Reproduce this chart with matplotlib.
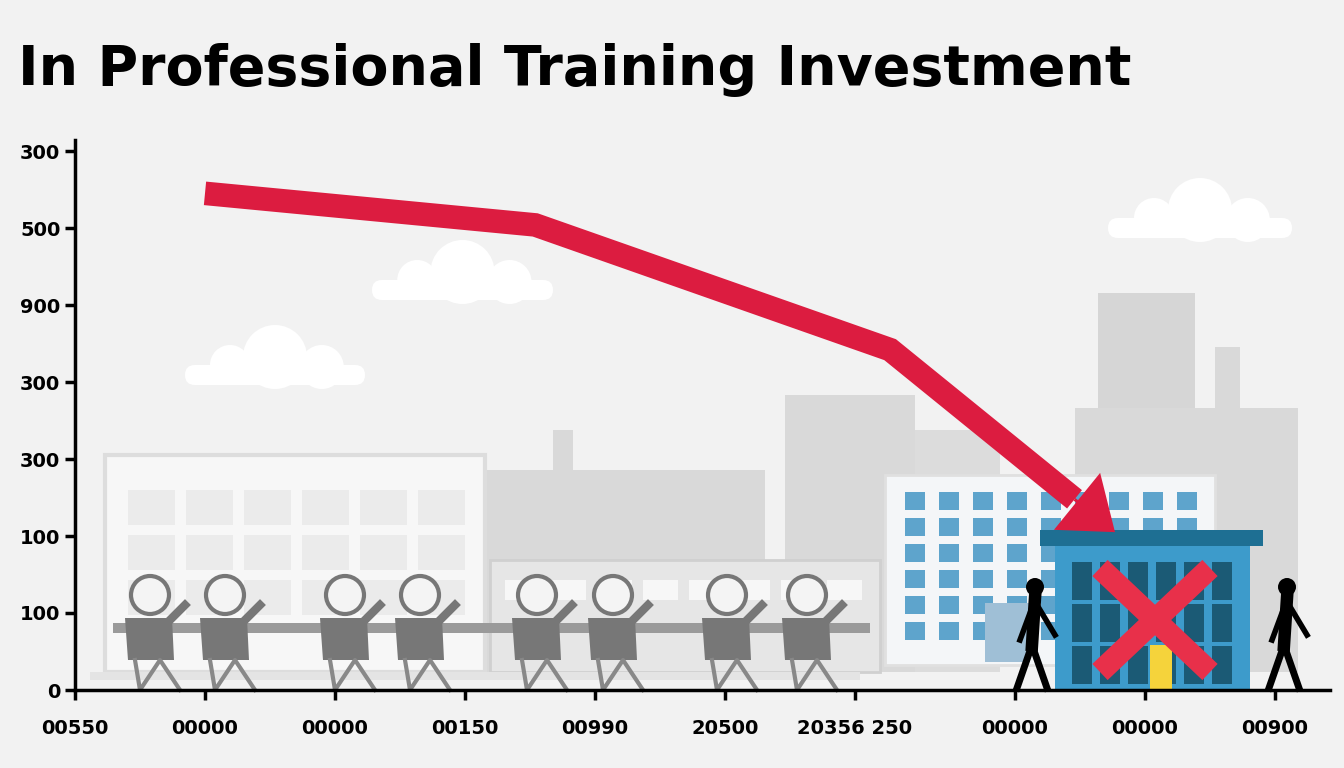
import matplotlib
matplotlib.use("Agg")
import matplotlib.pyplot as plt
from matplotlib.patches import Rectangle, Circle, Polygon, FancyBboxPatch

# --- data ---
y_ticks = [0, 1, 2, 3, 4, 5, 6, 7]
y_labels = ['0', '100', '100', '300', '300', '900', '500', '300']
x_ticks = [0, 1, 2, 3, 4, 5, 6, 7.23, 8.23, 9.23]
x_labels = ['00550', '00000', '00000', '00150', '00990', '20500',
            '20356 250', '00000', '00000', '00900']
trend_x = [1.0, 3.54, 6.27, 8.0]
trend_y = [6.45, 6.04, 4.42, 2.05]

BG = '#f2f2f2'
fig = plt.figure(figsize=(13.44, 7.68), dpi=100, facecolor=BG)

# --- background illustration (pixel coordinates) ---
bg = fig.add_axes([0, 0, 1, 1])
bg.set_xlim(0, 1344)
bg.set_ylim(768, 0)
bg.axis('off')
bg.set_facecolor(BG)

def rect(x0, y0, x1, y1, fc, ec='none', lw=0, z=1):
    bg.add_patch(Rectangle((x0, y0), x1 - x0, y1 - y0, fc=fc, ec=ec, lw=lw, zorder=z))

def cloud(x0, x1, ybase):
    w = x1 - x0
    for fx, r, dy in [(0.25, 20, 20), (0.5, 32, 28), (0.76, 22, 18)]:
        bg.add_patch(Circle((x0 + fx * w, ybase - dy), r, fc='white', ec='none', zorder=1))
    bg.add_patch(FancyBboxPatch((x0, ybase - 20), w, 20,
                                boxstyle='round,pad=0,rounding_size=10', fc='white', ec='none', zorder=1))

cloud(185, 365, 385)
cloud(372, 553, 300)
cloud(1108, 1292, 238)

# grey skyline
rect(1098, 293, 1195, 672, '#d6d6d6')
rect(1075, 408, 1298, 672, '#d9d9d9')
rect(1215, 347, 1240, 672, '#d9d9d9')
rect(785, 395, 915, 672, '#d9d9d9')
rect(915, 430, 1000, 672, '#dcdcdc')
rect(475, 470, 765, 672, '#d9d9d9')
rect(553, 430, 573, 672, '#d9d9d9')
# left white building
rect(105, 455, 485, 672, '#f7f7f7', '#dddddd', 3, z=2)
for c in range(6):
    for r in range(3):
        rect(128 + c * 58, 490 + r * 45, 175 + c * 58, 525 + r * 45, '#ebebeb', z=2)
# middle building
rect(490, 560, 880, 672, '#e6e6e6', '#d0d0d0', 2, z=2)
for c in range(8):
    rect(505 + c * 46, 580, 540 + c * 46, 600, '#f7f7f7', z=2)
# windowed building
rect(885, 475, 1215, 665, '#f4f6f8', '#e0e0e0', 2, z=2)
for c in range(9):
    for r in range(6):
        rect(905 + c * 34, 492 + r * 26, 925 + c * 34, 510 + r * 26, '#5ea4cc', z=2)
rect(985, 603, 1030, 662, '#9fbfd6', z=3)
# blue building
rect(1055, 540, 1250, 690, '#3d9bcb', z=4)
rect(1040, 530, 1263, 546, '#1e6f93', z=4)
for c in range(6):
    for r in range(3):
        rect(1072 + c * 28, 562 + r * 42, 1092 + c * 28, 600 + r * 42, '#1b5a75', z=4)
rect(1150, 645, 1172, 690, '#f5d33b', z=5)
bg.plot([1100, 1210], [568, 672], color='#e8304a', lw=16, solid_capstyle='butt', zorder=6)
bg.plot([1210, 1100], [568, 672], color='#e8304a', lw=16, solid_capstyle='butt', zorder=6)
# ground
rect(90, 672, 860, 680, '#e4e4e4', z=2)
rect(113, 623, 870, 633, '#9a9a9a', z=2)

# students
for hx in [150, 225, 345, 420, 537, 613, 727, 807]:
    bg.add_patch(Circle((hx, 595), 19, fc='#f4f4f4', ec='#777777', lw=3, zorder=5))
    bg.add_patch(Polygon([(hx - 25, 618), (hx + 22, 618), (hx + 24, 660), (hx - 22, 660)],
                         fc='#777777', ec='none', zorder=5))
    bg.plot([hx + 15, hx + 35], [625, 605], color='#777777', lw=6, zorder=5)
    bg.plot([hx - 15, hx - 10, hx + 10, hx + 30], [660, 690, 660, 690], color='#888888', lw=3, zorder=5)

# walkers
for wx in [1035, 1287]:
    bg.add_patch(Circle((wx, 587), 9, fc='black', zorder=6))
    bg.plot([wx, wx - 3], [598, 645], color='black', lw=9, zorder=6)
    bg.plot([wx - 18, wx - 3, wx + 12], [688, 645, 688], color='black', lw=5, zorder=6)
    bg.plot([wx - 2, wx - 15], [605, 640], color='black', lw=4, zorder=6)
    bg.plot([wx + 2, wx + 20], [605, 635], color='black', lw=4, zorder=6)

# --- chart axes ---
ax = fig.add_axes([75 / 1344, (768 - 690) / 768, 1255 / 1344, 550 / 768])
ax.patch.set_alpha(0)
ax.set_xlim(0, 1255 / 130)
ax.set_ylim(0, 550 / 77)
for s in ['top', 'right']:
    ax.spines[s].set_visible(False)
ax.spines['left'].set_linewidth(2.5)
ax.spines['bottom'].set_linewidth(2.5)
ax.set_yticks(y_ticks)
ax.set_yticklabels(y_labels, fontsize=14, fontweight='bold')
ax.set_xticks(x_ticks)
ax.set_xticklabels(x_labels, fontsize=14, fontweight='bold')
ax.tick_params(width=2.5, length=7)
ax.tick_params(axis='x', pad=14)

# trend line, arrow head on last point
end_x = trend_x[-2] + 0.82 * (trend_x[-1] - trend_x[-2])
end_y = trend_y[-2] + 0.82 * (trend_y[-1] - trend_y[-2])
ax.plot(trend_x[:-1] + [end_x], trend_y[:-1] + [end_y], color='#dc1c40', lw=17,
        solid_joinstyle='miter', solid_capstyle='butt', zorder=7)
ax.annotate('', xy=(trend_x[-1], trend_y[-1]), xytext=(end_x, end_y),
            arrowprops=dict(arrowstyle='simple,head_width=2.4,head_length=1.6,tail_width=0.1',
                            fc='#dc1c40', ec='none', mutation_scale=22, shrinkA=0, shrinkB=0),
            zorder=8)

fig.text(18 / 1344, 1 - 70 / 768, 'In Professional Training Investment',
         fontsize=40, fontweight='heavy', va='center', ha='left')

fig.savefig('out.png', dpi=100, facecolor=BG)
